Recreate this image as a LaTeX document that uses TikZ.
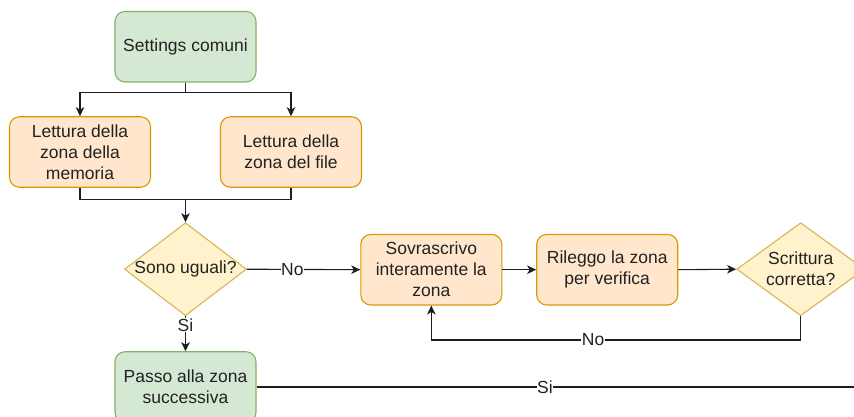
\documentclass[tikz,border=0pt]{standalone}
\usepackage{fontspec}
\setmainfont{Liberation Sans}
\usetikzlibrary{shapes.geometric,arrows.meta}
\definecolor{greenfill}{HTML}{D5E8D4}
\definecolor{greenline}{HTML}{82B366}
\definecolor{orangefill}{HTML}{FFE6CC}
\definecolor{orangeline}{HTML}{D79B00}
\definecolor{yellowfill}{HTML}{FFF2CC}
\definecolor{yellowline}{HTML}{D6B656}
\definecolor{ink}{HTML}{222222}
\definecolor{wire}{HTML}{1E1E1E}
\begin{document}
\begin{tikzpicture}[x=1pt,y=-1pt,
  every node/.style={font=\fontsize{17.5}{21}\selectfont, text=ink},
  box/.style={rectangle, rounded corners=10pt, line width=1.1pt, align=center,
              minimum width=141pt, minimum height=70.5pt, inner sep=2pt},
  greenbox/.style={box, draw=greenline, fill=greenfill},
  orangebox/.style={box, draw=orangeline, fill=orangefill},
  decision/.style={diamond, draw=yellowline, fill=yellowfill, line width=1.1pt,
                   inner sep=0pt, minimum height=93pt},
  wireline/.style={draw=wire, line width=1.1pt},
  conn/.style={wireline, -{Stealth[length=9pt,width=8.5pt,inset=2.5pt]}},
  lbl/.style={fill=white, inner sep=0.5pt}
]
\clip (0,0) rectangle (854,416);
\fill[white] (0,0) rectangle (854,416);

% process steps
\node[greenbox]  (settings) at (185.5,46.7)  {Settings comuni};
\node[orangebox] (mem)      at (80,152)      {Lettura della\\zona della\\memoria};
\node[orangebox] (file)     at (291,152)     {Lettura della\\zona del file};
\node[decision, minimum width=122pt, label={[align=center]center:Sono uguali?}] (same) at (185.5,269.2) {};
\node[orangebox] (write)    at (431.3,269.7) {Sovrascrivo\\interamente la\\zona};
\node[orangebox] (reread)   at (607.2,269.7) {Rileggo la zona\\per verifica};
\node[decision, minimum width=128pt, label={[align=center]center:Scrittura\\corretta?}] (ok) at (800.7,269.2) {};
\node[greenbox]  (next)     at (185.5,387)   {Passo alla zona\\successiva};

% junction points
\coordinate (split) at (185.5,92.7);
\coordinate (merge) at (185.5,199.3);
\coordinate (loop)  at (800.7,340);
\coordinate (rightedge) at (870,387);

% fan-out from the shared settings
\draw[wireline] (settings.south) -- (split);
\draw[conn] (split) -| (mem.north);
\draw[conn] (split) -| (file.north);

% both reads join before the comparison
\draw[wireline] (mem.south) |- (merge);
\draw[wireline] (file.south) |- (merge);
\draw[conn] (merge) -- (same.north);

% comparison outcomes
\draw[conn] (same.east) -- node[lbl, pos=0.4]{No} (write.west);
\draw[conn] (same.south) -- node[lbl, pos=0.26]{Si} (next.north);

% write and verify loop
\draw[conn] (write.east) -- (reread.west);
\draw[conn] (reread.east) -- (ok.west);
\draw[conn] (ok.south) -- (loop) -| node[lbl, pos=0.281]{No} (write.south);

% successful write continues to the next zone
\draw[wireline] (next.east) -- node[lbl, pos=0.47]{Si} (rightedge);
\end{tikzpicture}
\end{document}
